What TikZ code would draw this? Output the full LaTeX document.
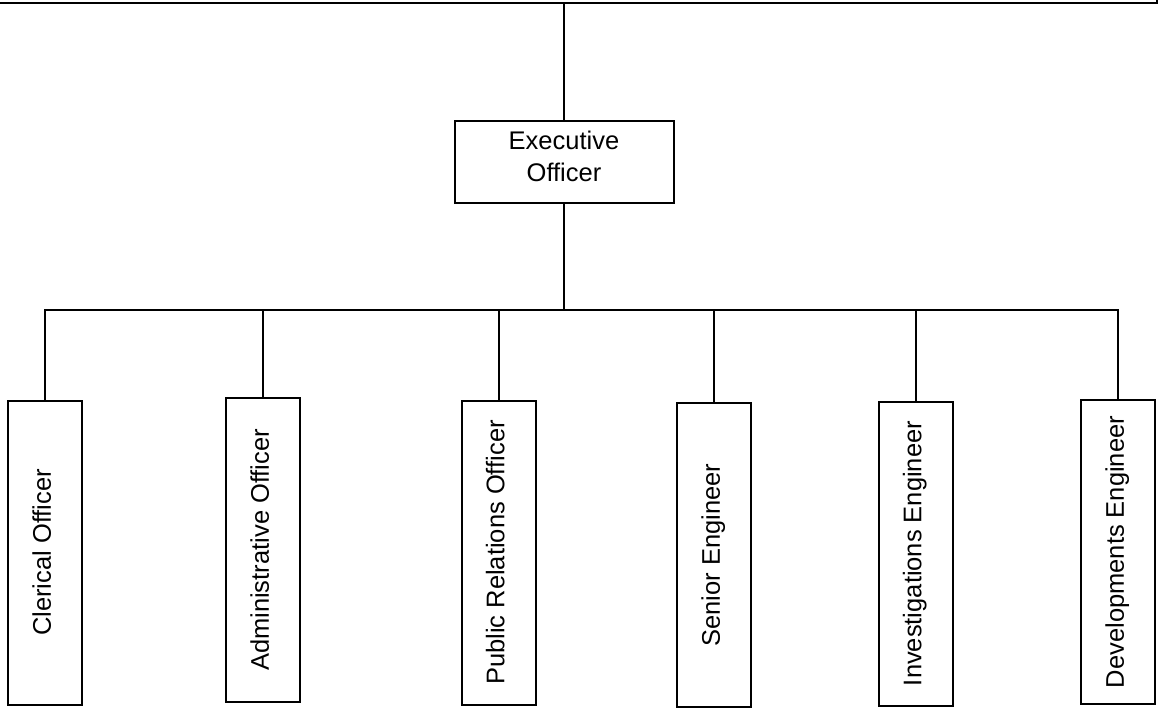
\documentclass[tikz,border=0pt]{standalone}
\usepackage{fontspec}
\setmainfont{Liberation Sans}

\begin{document}
\begin{tikzpicture}[x=1bp, y=-1bp, line width=2bp,
  box/.style={draw, inner sep=0pt, font=\fontsize{25.5bp}{32bp}\selectfont},
  post/.style={box, rotate=90, minimum width=304bp, minimum height=74bp,
    text height=18.5bp, text depth=7bp}]
  \useasboundingbox (0,0) rectangle (1159,709);
  % bottom edge of the board above
  \draw[line width=2.5bp] (0,3) -- (1157,3) -- (1157,0);
  \coordinate (top) at (564,3);
  \coordinate (bus) at (564,310);
  \node (exec) [box, minimum width=219bp, minimum height=82bp, align=center,
    text depth=11bp] at (564,162) {Executive\\Officer};
  \node (clerical) [post] at (45,552.5) {Clerical Officer};
  \node (admin) [post] at (263,550) {Administrative Officer};
  \node (pr) [post] at (498.5,552.5) {Public Relations Officer};
  \node (senior) [post] at (714,555) {Senior Engineer};
  \node (invest) [post] at (915.5,553.5) {Investigations Engineer};
  \node (devel) [post] at (1118,552) {Developments Engineer};
  \draw (top) -- (exec.north);
  \draw (exec.south) -- (bus);
  \draw (clerical.east) |- (bus) -| (devel.east);
  \foreach \n in {admin, pr, senior, invest}
    \draw (\n.east) -- (\n.east |- bus);
\end{tikzpicture}
\end{document}
